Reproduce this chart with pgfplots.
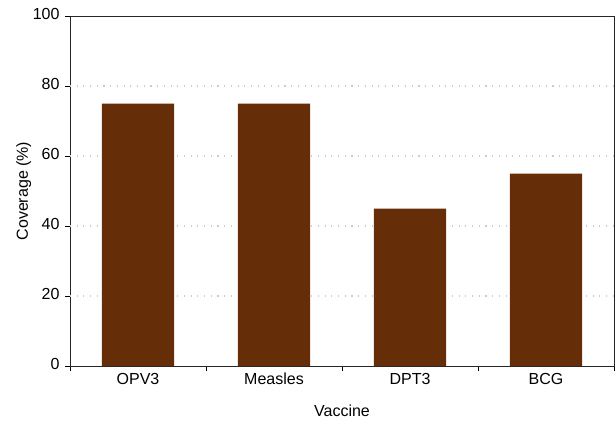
\documentclass[border=0pt]{standalone}
\usepackage{pgfplots}
\pgfplotsset{compat=1.18}
\usepackage{fontspec}
\setmainfont{Liberation Sans}
\definecolor{barbrown}{HTML}{662D09}
\definecolor{gridgray}{HTML}{CCCCCC}
\begin{document}
\fontsize{16pt}{19pt}\selectfont
\begin{tikzpicture}
\useasboundingbox (-70pt,-66pt) rectangle (546pt,366pt);
\begin{axis}[
  at={(0pt,0pt)}, anchor=south west,
  scale only axis,
  width=544pt, height=350pt,
  xmin=-0.5, xmax=3.5,
  ymin=0, ymax=100,
  ytick={0,20,40,60,80,100},
  extra y ticks={20,40,60,80},
  extra y tick labels={},
  extra y tick style={major tick length=0pt, ymajorgrids=true},
  xtick={-0.5,0.5,1.5,2.5,3.5},
  xticklabels={},
  extra x ticks={0,1,2,3},
  extra x tick labels={OPV3,Measles,DPT3,BCG},
  extra x tick style={major tick length=0pt},
  every tick/.style={black, line width=0.8pt},
  tick align=outside,
  major tick length=5pt,
  xtick pos=bottom, ytick pos=left,
  typeset ticklabels with strut,
  grid style={gridgray, line width=1.1pt, dash pattern=on 1.1pt off 5.6pt},
  axis line style={black!85, line width=0.8pt},
  xlabel={Vaccine}, ylabel={Coverage (\%)},
  ticklabel style={font=\fontsize{16pt}{19pt}\selectfont},
  label style={font=\fontsize{16pt}{19pt}\selectfont},
  /pgf/number format/assume math mode=true,
  ybar, bar width=0.53,
  xlabel style={at={(axis description cs:0.5,-0.1286)}, anchor=center},
  ylabel style={at={(axis description cs:-0.085,0.5)}, anchor=center, rotate=0},
]
\addplot[fill=barbrown, draw=none] coordinates {(0,75) (1,75) (2,45) (3,55)};
\end{axis}
\end{tikzpicture}
\end{document}
